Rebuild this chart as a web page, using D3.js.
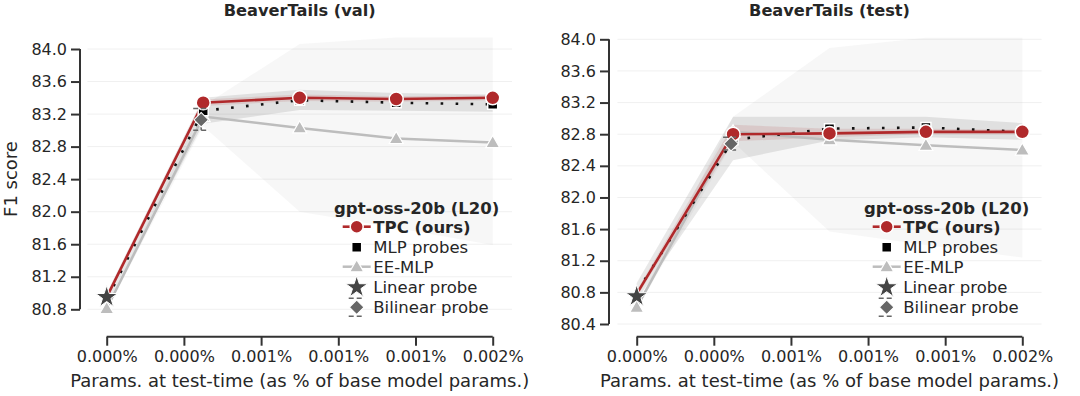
<!DOCTYPE html>
<html>
<head>
<meta charset="utf-8">
<script src="https://cdn.jsdelivr.net/npm/d3@7"></script>
<style>
  body { margin: 0; background: #fff; }
  svg { display: block; font-family: "DejaVu Sans", sans-serif; }
</style>
</head>
<body>
<svg id="chart" width="1080" height="396"></svg>
<script>
// x positions (as % of base model params) shared by both panels
var xs = [0, 0.000375, 0.00075, 0.001125, 0.0015];
var xTicks = [0, 0.0003, 0.0006, 0.0009, 0.0012, 0.0015];
var xTickLabels = ['0.000%', '0.000%', '0.001%', '0.001%', '0.001%', '0.002%'];

// BeaverTails (val)
var valTicks = [80.8, 81.2, 81.6, 82.0, 82.4, 82.8, 83.2, 83.6, 84.0];
var tpcVal   = [80.95, 83.34, 83.40, 83.385, 83.40];
var tpcValLo = [80.92, 83.30, 83.36, 83.35, 83.37];
var tpcValHi = [80.98, 83.38, 83.44, 83.42, 83.43];
var mlpVal   = [80.92, 83.24, 83.37, 83.34, 83.32];
var mlpValLo = [80.85, 83.08, 83.25, 83.24, 83.23];
var mlpValHi = [81.00, 83.40, 83.50, 83.46, 83.44];
var eeVal    = [80.81, 83.17, 83.03, 82.90, 82.85];
var eeValLo  = [80.79, 83.05, 82.00, 81.80, 81.59];
var eeValHi  = [80.83, 83.30, 84.06, 84.14, 84.14];
var linearVal = 80.95;
var bilinearVal = [83.13, 83.00, 83.27]; // mean, low, high

// BeaverTails (test)
var testTicks = [80.4, 80.8, 81.2, 81.6, 82.0, 82.4, 82.8, 83.2, 83.6, 84.0];
var tpcTest   = [80.78, 82.80, 82.81, 82.83, 82.83];
var tpcTestLo = [80.74, 82.71, 82.76, 82.80, 82.80];
var tpcTestHi = [80.82, 82.92, 82.87, 82.87, 82.86];
var mlpTest   = [80.80, 82.73, 82.87, 82.885, 82.83];
var mlpTestLo = [80.70, 82.47, 82.72, 82.76, 82.73];
var mlpTestHi = [80.92, 83.02, 83.02, 83.02, 82.94];
var eeTest    = [80.61, 82.83, 82.73, 82.66, 82.60];
var eeTestLo  = [80.58, 82.70, 81.57, 81.40, 81.24];
var eeTestHi  = [80.64, 83.02, 83.89, 84.02, 84.02];
var linearTest = 80.75;
var bilinearTest = [82.68, 82.60, 82.76];

var legendTitle = 'gpt-oss-20b (L20)';
var legendNames = ['TPC (ours)', 'MLP probes', 'EE-MLP', 'Linear probe', 'Bilinear probe'];

var RED = '#b0292b', EE = '#bdbdbd', INK = '#262626';
var FS_TICK = 16, FS_LABEL = 18, FS_LEG = 16.5;

var svg = d3.select('#chart');

function panel(o) {
    var g = svg.append('g');
    var x = d3.scaleLinear().domain([0, 0.0015]).range(o.xRange);
    var y = d3.scaleLinear().domain([o.ticks[0], o.ticks[o.ticks.length - 1]]).range(o.yRange);
    var pad = (o.xRange[1] - o.xRange[0]) * 0.05;
    var left = o.xRange[0] - pad, right = o.xRange[1] + pad;

    // faint grid
    g.selectAll('.grid').data(o.ticks).enter().append('line')
        .attr('x1', left).attr('x2', right)
        .attr('y1', d => y(d)).attr('y2', d => y(d))
        .attr('stroke', '#f0f0f0').attr('stroke-width', 1);

    function band(lo, hi, fill, op) {
        var area = d3.area().x((d, i) => x(xs[i])).y0((d, i) => y(lo[i])).y1((d, i) => y(hi[i]));
        g.append('path').datum(lo).attr('d', area).attr('fill', fill).attr('fill-opacity', op);
    }
    band(o.eeLo, o.eeHi, '#9a9a9a', 0.08);
    band(o.mlpLo, o.mlpHi, '#000', 0.09);
    band(o.tpcLo, o.tpcHi, RED, 0.12);

    var line = d3.line().x((d, i) => x(xs[i])).y(d => y(d));
    g.append('path').datum(o.ee).attr('d', line).attr('fill', 'none')
        .attr('stroke', EE).attr('stroke-width', 2.5);
    g.append('path').datum(o.mlp).attr('d', line).attr('fill', 'none')
        .attr('stroke', '#111').attr('stroke-width', 2.6).attr('stroke-dasharray', '2.6,12.4');
    g.append('path').datum(o.tpc).attr('d', line).attr('fill', 'none')
        .attr('stroke', RED).attr('stroke-width', 2.6);

    // markers
    g.selectAll('.tri').data(o.ee).enter().append('path')
        .attr('d', d3.symbol(d3.symbolTriangle, 85))
        .attr('transform', (d, i) => `translate(${x(xs[i])},${y(d) + 1})`)
        .attr('fill', EE).attr('stroke', '#fff').attr('stroke-width', 1.2);
    g.selectAll('.sq').data(o.mlp.slice(1)).enter().append('path')
        .attr('d', d3.symbol(d3.symbolSquare, 100))
        .attr('transform', (d, i) => `translate(${x(xs[i + 1])},${y(d)})`)
        .attr('fill', '#000').attr('stroke', '#fff').attr('stroke-width', 1.5);
    g.selectAll('.dot').data(o.tpc.slice(1)).enter().append('circle')
        .attr('cx', (d, i) => x(xs[i + 1])).attr('cy', d => y(d)).attr('r', 7)
        .attr('fill', RED).attr('stroke', '#fff').attr('stroke-width', 1.5);

    // linear probe star
    g.append('path').attr('d', d3.symbol(d3.symbolStar, 150))
        .attr('transform', `translate(${x(xs[0])},${y(o.linear)})`)
        .attr('fill', '#444').attr('stroke', '#fff').attr('stroke-width', 1);

    // bilinear probe with dashed error caps
    var bx = x(xs[1]) - 2, b = o.bilinear;
    g.append('line').attr('x1', bx).attr('x2', bx).attr('y1', y(b[1])).attr('y2', y(b[2]))
        .attr('stroke', '#666').attr('stroke-width', 1.5).attr('stroke-dasharray', '4,3');
    [b[1], b[2]].forEach(v => {
        g.append('line').attr('x1', bx - 8).attr('x2', bx + 8).attr('y1', y(v)).attr('y2', y(v))
            .attr('stroke', '#666').attr('stroke-width', 1.5).attr('stroke-dasharray', '5,3');
    });
    g.append('path').attr('d', d3.symbol(d3.symbolSquare, 105))
        .attr('transform', `translate(${bx},${y(b[0])}) rotate(45)`)
        .attr('fill', '#666').attr('stroke', '#fff').attr('stroke-width', 1);

    // axes (offset, trimmed spines)
    var ya = d3.axisLeft(y).tickValues(o.ticks).tickFormat(d3.format('.1f')).tickSize(9).tickPadding(4);
    var ga = g.append('g').attr('transform', `translate(${o.spineX},0)`).call(ya);
    var xa = d3.axisBottom(x).tickValues(xTicks).tickFormat((d, i) => xTickLabels[i]).tickSize(9).tickPadding(5);
    var gx = g.append('g').attr('transform', `translate(0,336.7)`).call(xa);
    [ga, gx].forEach(a => {
        a.select('.domain').attr('stroke', '#333').attr('stroke-width', 2)
            .attr('d', a === ga ? `M0,${o.yRange[0]}V${o.yRange[1]}` : `M${o.xRange[0]},0H${o.xRange[1]}`);
        a.selectAll('.tick line').attr('stroke', '#333').attr('stroke-width', 2);
        a.selectAll('text').attr('font-size', FS_TICK).attr('fill', INK).attr('font-family', 'DejaVu Sans');
    });

    var cx = (left + right) / 2;
    g.append('text').attr('x', cx).attr('y', 15.5).attr('text-anchor', 'middle')
        .attr('font-size', 16.2).attr('font-weight', 'bold').attr('fill', INK).text(o.title);
    g.append('text').attr('x', cx).attr('y', 386.5).attr('text-anchor', 'middle')
        .attr('font-size', FS_LABEL).attr('fill', INK).text('Params. at test-time (as % of base model params.)');

    // legend
    var hx = o.legendX, tx = hx + 16.6;
    var rows = [226.7, 247.3, 266.7, 287.3, 307.3];
    var lg = g.append('g');
    lg.append('text').attr('x', hx + 60).attr('y', 214.3).attr('text-anchor', 'middle')
        .attr('font-size', FS_LEG).attr('font-weight', 'bold').attr('fill', INK).text(legendTitle);
    legendNames.forEach((name, i) => {
        lg.append('text').attr('x', tx).attr('y', rows[i] + 6).attr('font-size', FS_LEG)
            .attr('font-weight', i === 0 ? 'bold' : 'normal').attr('fill', INK).text(name);
    });
    lg.append('line').attr('x1', hx - 14).attr('x2', hx + 14).attr('y1', rows[0]).attr('y2', rows[0])
        .attr('stroke', RED).attr('stroke-width', 2.6);
    lg.append('circle').attr('cx', hx).attr('cy', rows[0]).attr('r', 6.5)
        .attr('fill', RED).attr('stroke', '#fff').attr('stroke-width', 1.5);
    lg.append('path').attr('d', d3.symbol(d3.symbolSquare, 100)).attr('transform', `translate(${hx},${rows[1]})`)
        .attr('fill', '#000').attr('stroke', '#fff').attr('stroke-width', 1.5);
    lg.append('line').attr('x1', hx - 14).attr('x2', hx + 14).attr('y1', rows[2]).attr('y2', rows[2])
        .attr('stroke', EE).attr('stroke-width', 2.5);
    lg.append('path').attr('d', d3.symbol(d3.symbolTriangle, 85)).attr('transform', `translate(${hx},${rows[2] + 1})`)
        .attr('fill', EE).attr('stroke', '#fff').attr('stroke-width', 1.2);
    lg.append('path').attr('d', d3.symbol(d3.symbolStar, 150)).attr('transform', `translate(${hx},${rows[3]})`)
        .attr('fill', '#444').attr('stroke', '#fff').attr('stroke-width', 1);
    [-9, 9].forEach(dy => {
        lg.append('line').attr('x1', hx - 8).attr('x2', hx + 8).attr('y1', rows[4] + dy).attr('y2', rows[4] + dy)
            .attr('stroke', '#666').attr('stroke-width', 1.5).attr('stroke-dasharray', '5,3');
    });
    lg.append('path').attr('d', d3.symbol(d3.symbolSquare, 105))
        .attr('transform', `translate(${hx},${rows[4]}) rotate(45)`)
        .attr('fill', '#666').attr('stroke', '#fff').attr('stroke-width', 1);
}

panel({
    title: 'BeaverTails (val)', ticks: valTicks, xRange: [106.7, 492.7], yRange: [309.3, 49], spineX: 80,
    tpc: tpcVal, tpcLo: tpcValLo, tpcHi: tpcValHi, mlp: mlpVal, mlpLo: mlpValLo, mlpHi: mlpValHi,
    ee: eeVal, eeLo: eeValLo, eeHi: eeValHi, linear: linearVal, bilinear: bilinearVal, legendX: 356.7
});
panel({
    title: 'BeaverTails (test)', ticks: testTicks, xRange: [636.7, 1022.3], yRange: [324, 39.3], spineX: 609,
    tpc: tpcTest, tpcLo: tpcTestLo, tpcHi: tpcTestHi, mlp: mlpTest, mlpLo: mlpTestLo, mlpHi: mlpTestHi,
    ee: eeTest, eeLo: eeTestLo, eeHi: eeTestHi, linear: linearTest, bilinear: bilinearTest, legendX: 886.7
});

svg.append('text').attr('transform', 'translate(17,179) rotate(-90)').attr('text-anchor', 'middle')
    .attr('font-size', FS_LABEL).attr('fill', INK).text('F1 score');
</script>
</body>
</html>
